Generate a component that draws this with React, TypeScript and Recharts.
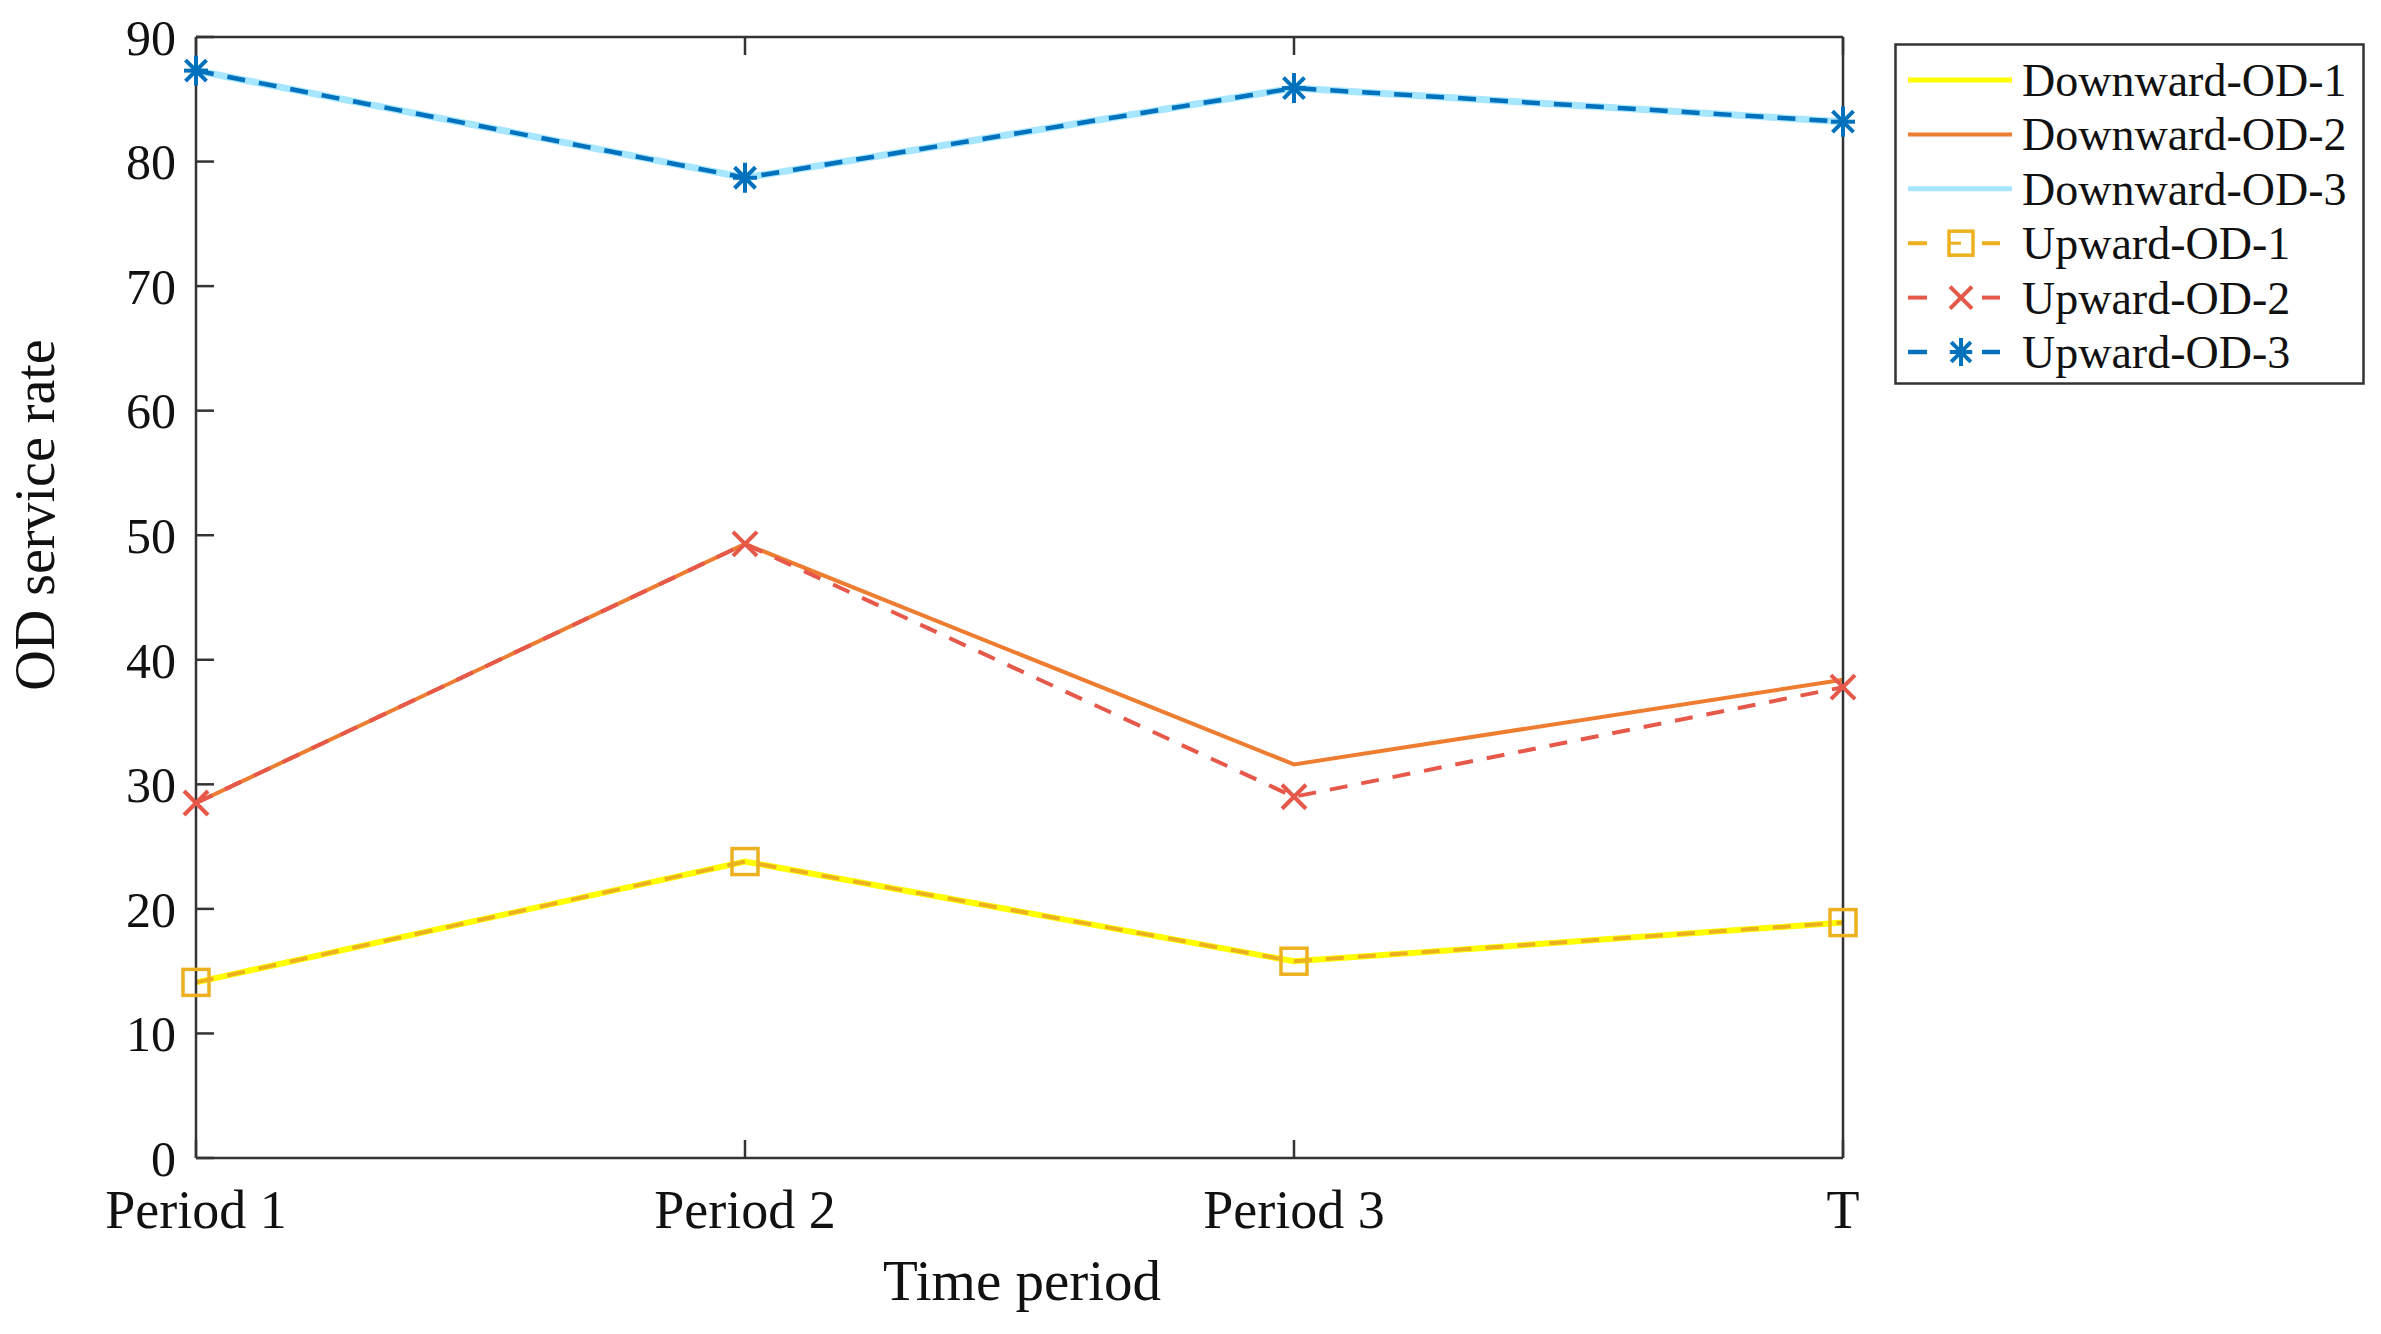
import React from "react";
import { LineChart, Line, XAxis, YAxis } from "recharts";

const periods = ["Period 1", "Period 2", "Period 3", "T"];
const downwardOD1 = [14.1, 23.8, 15.8, 18.9];
const downwardOD2 = [28.5, 49.3, 31.6, 38.4];
const downwardOD3 = [87.3, 78.7, 85.9, 83.2];
const upwardOD1 = [14.1, 23.8, 15.8, 18.9];
const upwardOD2 = [28.5, 49.3, 29.0, 37.8];
const upwardOD3 = [87.3, 78.7, 85.9, 83.2];
const yTicks = [0, 10, 20, 30, 40, 50, 60, 70, 80, 90];

const FONT = '"Liberation Serif", "Times New Roman", serif';
const AXIS = "#333333";

const C_D1 = "#FFFF00";
const C_D2 = "#ED7D31";
const C_D3 = "#A6E6FF";
const C_U1 = "#EDB120";
const C_U2 = "#E5584A";
const C_U3 = "#0072BD";

const data = periods.map((p, i) => ({
  period: p,
  d1: downwardOD1[i],
  d2: downwardOD2[i],
  d3: downwardOD3[i],
  u1: upwardOD1[i],
  u2: upwardOD2[i],
  u3: upwardOD3[i],
}));

const Square = ({ cx, cy, color, s = 13 }: any) => (
  <g>
    <rect x={cx - s} y={cy - s} width={2 * s} height={2 * s} fill="none" stroke={color} strokeWidth={3.5} />
  </g>
);

const Cross = ({ cx, cy, color, s = 12 }: any) => (
  <g stroke={color} strokeWidth={4}>
    <line x1={cx - s} y1={cy - s} x2={cx + s} y2={cy + s} />
    <line x1={cx - s} y1={cy + s} x2={cx + s} y2={cy - s} />
  </g>
);

const Star = ({ cx, cy, color, s = 15 }: any) => {
  const d = s * 0.7;
  return (
    <g stroke={color} strokeWidth={4}>
      <line x1={cx} y1={cy - s} x2={cx} y2={cy + s} />
      <line x1={cx - d} y1={cy - d} x2={cx + d} y2={cy + d} />
      <line x1={cx - d} y1={cy + d} x2={cx + d} y2={cy - d} />
      <line x1={cx - s * 0.8} y1={cy} x2={cx + s * 0.8} y2={cy} />
    </g>
  );
};

const legendItems = [
  { name: "Downward-OD-1", color: C_D1, dashed: false, marker: null, w: 5 },
  { name: "Downward-OD-2", color: C_D2, dashed: false, marker: null, w: 4 },
  { name: "Downward-OD-3", color: C_D3, dashed: false, marker: null, w: 5 },
  { name: "Upward-OD-1", color: C_U1, dashed: true, marker: "square", w: 4 },
  { name: "Upward-OD-2", color: C_U2, dashed: true, marker: "cross", w: 4 },
  { name: "Upward-OD-3", color: C_U3, dashed: true, marker: "star", w: 4.5 },
];

const LegendBox = () => (
  <svg
    width={471}
    height={342}
    style={{ position: "absolute", left: 1894, top: 43 }}
  >
    <rect x={1.5} y={1.5} width={468} height={339} fill="#fff" stroke={AXIS} strokeWidth={2.5} />
    {legendItems.map((it, i) => {
      const cy = 37 + i * 54.4;
      return (
        <g key={it.name}>
          {it.dashed ? (
            <g>
              <line x1={14} y1={cy} x2={33} y2={cy} stroke={it.color} strokeWidth={it.w} />
              <line x1={88} y1={cy} x2={106} y2={cy} stroke={it.color} strokeWidth={it.w} />
              {it.marker === "square" && (
                <g>
                  <Square cx={67} cy={cy} color={it.color} s={12} />
                  <line x1={55} y1={cy} x2={67} y2={cy} stroke={it.color} strokeWidth={3} />
                </g>
              )}
              {it.marker === "cross" && <Cross cx={67} cy={cy} color={it.color} s={11} />}
              {it.marker === "star" && <Star cx={67} cy={cy} color={it.color} s={14} />}
            </g>
          ) : (
            <line x1={14} y1={cy} x2={118} y2={cy} stroke={it.color} strokeWidth={it.w} />
          )}
          <text x={128} y={cy + 16} fontFamily={FONT} fontSize={46} fill="#111">
            {it.name}
          </text>
        </g>
      );
    })}
  </svg>
);

const yLabel = () => (
  <text
    x={35}
    y={515}
    transform="rotate(-90, 35, 515)"
    textAnchor="middle"
    dominantBaseline="central"
    fontFamily={FONT}
    fontSize={56}
    fill="#111"
  >
    OD service rate
  </text>
);

const xLabel = () => (
  <text x={1022} y={1300} textAnchor="middle" fontFamily={FONT} fontSize={57} fill="#111">
    Time period
  </text>
);

const App = () => {
  const xTickStyle = { fontFamily: FONT, fontSize: 54, fill: "#111" };
  const yTickStyle = { fontFamily: FONT, fontSize: 50, fill: "#111" };
  return (
    <div style={{ position: "absolute", left: 0, top: 0, width: 2381, height: 1334, background: "#fff" }}>
      <LineChart
        width={2381}
        height={1334}
        data={data}
        margin={{ top: 36, right: 537, bottom: 56, left: 96 }}
      >
        <XAxis
          dataKey="period"
          height={120}
          tick={xTickStyle}
          tickSize={-18}
          tickMargin={50}
          stroke={AXIS}
          strokeWidth={2.5}
          interval={0}
          label={xLabel}
        />
        <XAxis
          xAxisId="top"
          orientation="top"
          dataKey="period"
          height={1}
          tick={() => <g />}
          tickSize={-18}
          stroke={AXIS}
          strokeWidth={2.5}
          interval={0}
        />
        <YAxis
          domain={[0, 90]}
          ticks={yTicks}
          width={100}
          tick={yTickStyle}
          tickSize={-18}
          tickMargin={38}
          stroke={AXIS}
          strokeWidth={2.5}
          interval={0}
          label={yLabel}
        />
        <YAxis
          yAxisId="right"
          orientation="right"
          domain={[0, 90]}
          ticks={yTicks}
          width={1}
          tick={() => <g />}
          tickSize={-18}
          stroke={AXIS}
          strokeWidth={2.5}
          interval={0}
        />
        <Line dataKey="d1" name="Downward-OD-1" stroke={C_D1} strokeWidth={6} dot={false} isAnimationActive={false} />
        <Line dataKey="d2" name="Downward-OD-2" stroke={C_D2} strokeWidth={4} dot={false} isAnimationActive={false} />
        <Line dataKey="d3" name="Downward-OD-3" stroke={C_D3} strokeWidth={7} dot={false} isAnimationActive={false} />
        <Line
          dataKey="u1"
          name="Upward-OD-1"
          stroke={C_U1}
          strokeWidth={4}
          strokeDasharray="18 14"
          dot={(p: any) => <Square key={p.index} cx={p.cx} cy={p.cy} color={C_U1} />}
          isAnimationActive={false}
        />
        <Line
          dataKey="u2"
          name="Upward-OD-2"
          stroke={C_U2}
          strokeWidth={4}
          strokeDasharray="18 14"
          dot={(p: any) => <Cross key={p.index} cx={p.cx} cy={p.cy} color={C_U2} />}
          isAnimationActive={false}
        />
        <Line
          dataKey="u3"
          name="Upward-OD-3"
          stroke={C_U3}
          strokeWidth={4.5}
          strokeDasharray="18 14"
          dot={(p: any) => <Star key={p.index} cx={p.cx} cy={p.cy} color={C_U3} />}
          isAnimationActive={false}
        />
      </LineChart>
      <LegendBox />
    </div>
  );
};

export default App;
